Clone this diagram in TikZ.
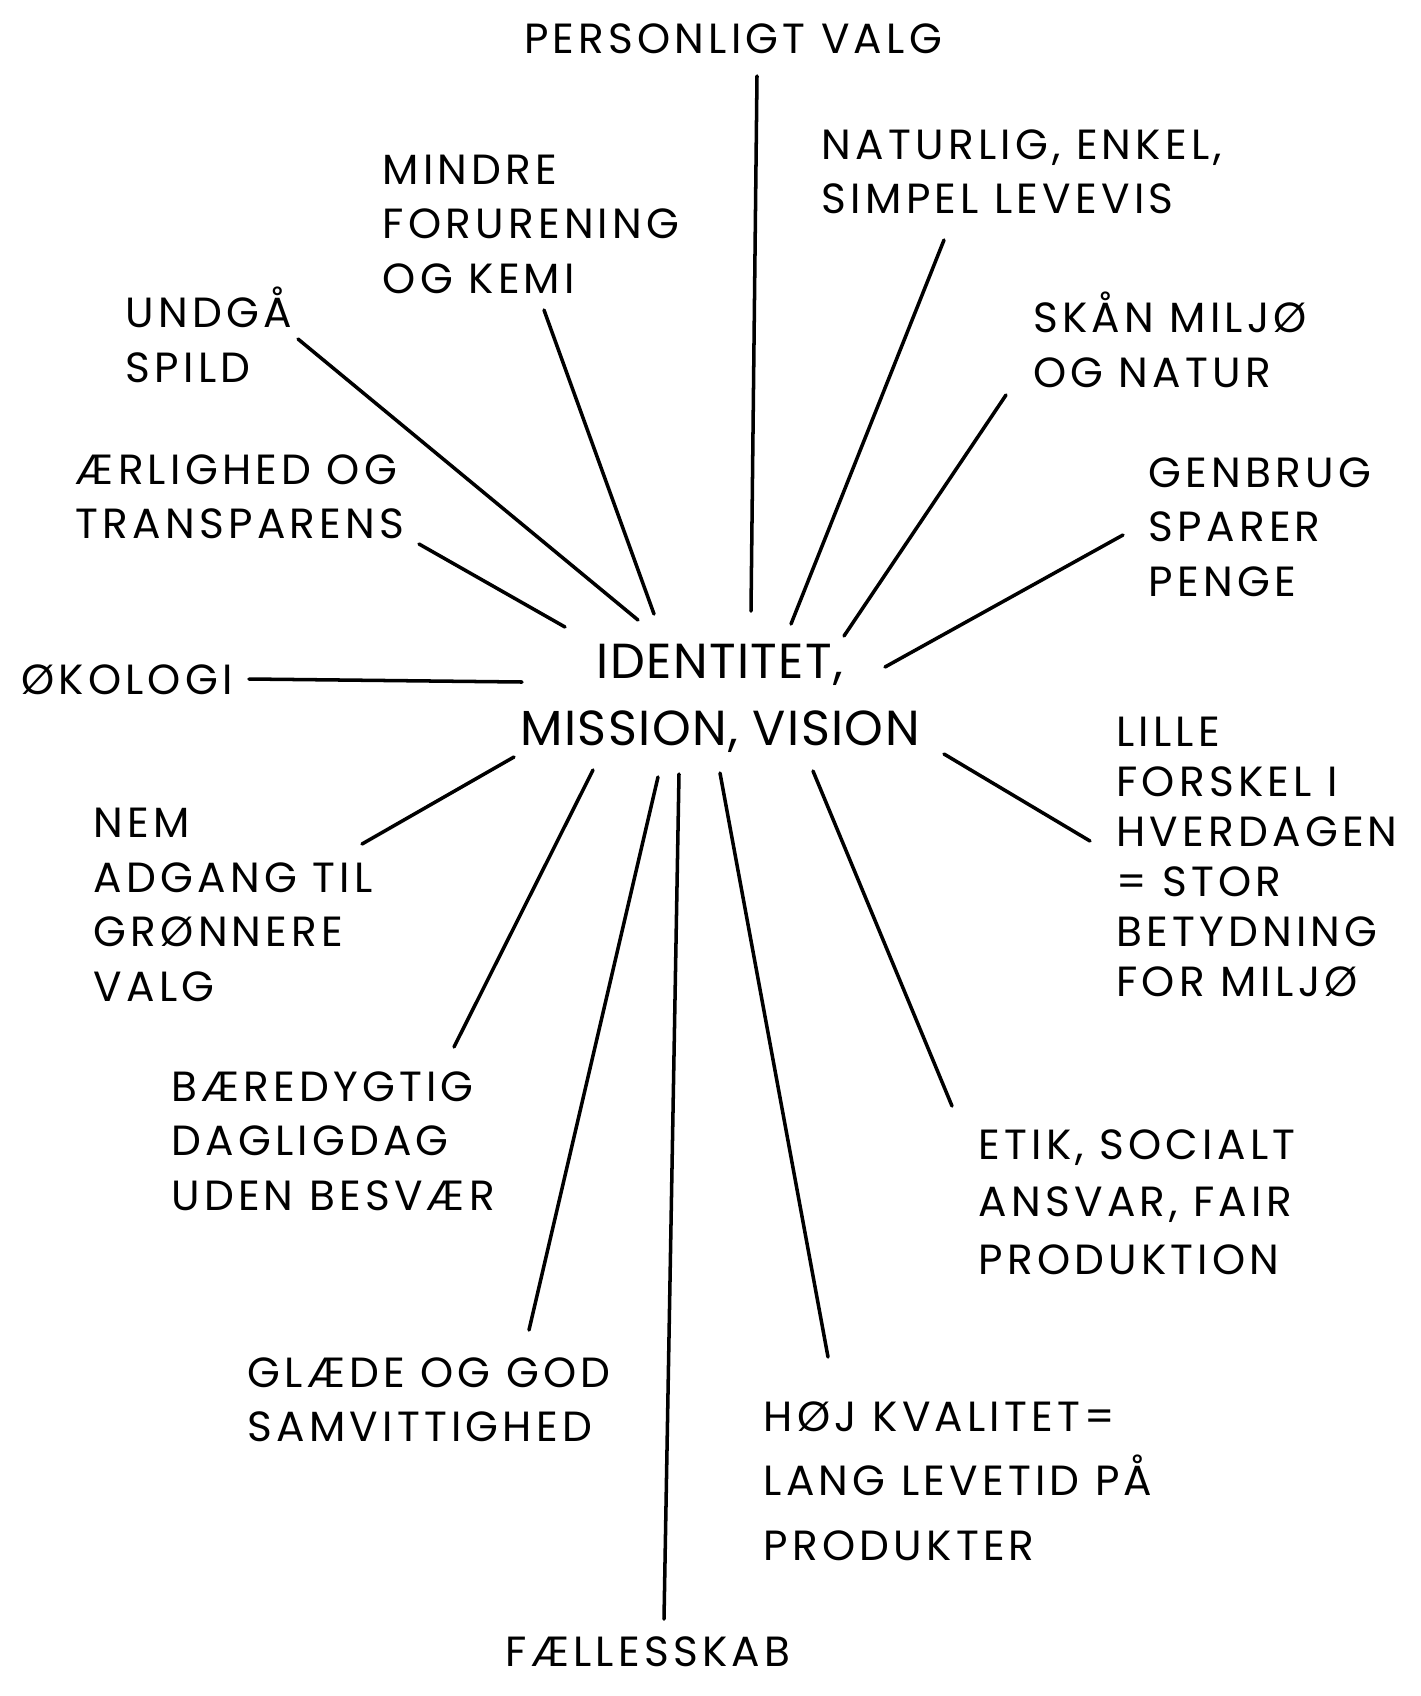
\documentclass[tikz,border=0pt]{standalone}
\usepackage{fontspec}
\setmainfont{Poppins}[LetterSpace=10]
\usetikzlibrary{positioning}
\tikzset{
  lbl/.style={align=left,inner sep=0pt,font=\fontsize{12}{15.5}\selectfont},
  hub/.style={align=center,inner sep=0pt,
              font=\fontsize{14}{19}\selectfont\addfontfeatures{LetterSpace=3}},
  spoke/.style={draw=black,line width=1pt,line cap=round},
}
\begin{document}
\begin{tikzpicture}[x=0.01cm,y=-0.01cm]
  \useasboundingbox (0,0) rectangle (1420,1696);
  % centre
  \node[hub] (hub) at (720,698) {IDENTITET,\\MISSION, VISION};
  % labels round it
  \node[lbl] (valg) at (733,39) {PERSONLIGT VALG};
  \node[lbl] (natur) at (1022,172) {NATURLIG, ENKEL,\\SIMPEL LEVEVIS};
  \node[lbl] (mindre) at (531,224) {MINDRE\\FORURENING\\OG KEMI};
  \node[lbl] (spild) at (209,335) {UNDGÅ\\SPILD};
  \node[lbl] (skaan) at (1170,340) {SKÅN MILJØ\\OG NATUR};
  \node[lbl] (aerlig) at (240,497) {ÆRLIGHED OG\\TRANSPARENS};
  \node[lbl] (genbrug) at (1260,527) {GENBRUG\\SPARER\\PENGE};
  \node[lbl] (oeko) at (127,680) {ØKOLOGI};
  \node[lbl,font=\fontsize{12}{14.2}\selectfont] (lille) at (1257,857)
    {LILLE\\FORSKEL I\\HVERDAGEN\\= STOR\\BETYDNING\\FOR MILJØ};
  \node[lbl] (nem) at (233,905) {NEM\\ADGANG TIL\\GRØNNERE\\VALG};
  \node[lbl] (baer) at (333,1141) {BÆREDYGTIG\\DAGLIGDAG\\UDEN BESVÆR};
  \node[lbl,font=\fontsize{12}{16.3}\selectfont] (etik) at (1137,1202)
    {ETIK, SOCIALT\\ANSVAR, FAIR\\PRODUKTION};
  \node[lbl] (glaede) at (429,1400) {GLÆDE OG GOD\\SAMVITTIGHED};
  \node[lbl,font=\fontsize{12}{18.4}\selectfont] (kval) at (958,1481)
    {HØJ KVALITET=\\LANG LEVETID PÅ\\PRODUKTER};
  \node[lbl] (faelles) at (648,1652) {FÆLLESSKAB};
  % spoke ends
  \path (751,611) coordinate (valg-in)    (757,76)   coordinate (valg-out)
        (791,624) coordinate (natur-in)   (944,240)  coordinate (natur-out)
        (654,614) coordinate (mindre-in)  (544,310)  coordinate (mindre-out)
        (638,620) coordinate (spild-in)   (298,339)  coordinate (spild-out)
        (844,636) coordinate (skaan-in)   (1006,395) coordinate (skaan-out)
        (565,627) coordinate (aerlig-in)  (419,544)  coordinate (aerlig-out)
        (885,667) coordinate (genbrug-in) (1123,535) coordinate (genbrug-out)
        (522,682) coordinate (oeko-in)    (249,679)  coordinate (oeko-out)
        (944,754) coordinate (lille-in)   (1090,841) coordinate (lille-out)
        (514,757) coordinate (nem-in)     (362,844)  coordinate (nem-out)
        (593,770) coordinate (baer-in)    (454,1047) coordinate (baer-out)
        (813,771) coordinate (etik-in)    (952,1106) coordinate (etik-out)
        (658,777) coordinate (glaede-in)  (529,1330) coordinate (glaede-out)
        (679,774) coordinate (faelles-in) (664,1619) coordinate (faelles-out)
        (720,773) coordinate (kval-in)    (828,1357) coordinate (kval-out);
  \foreach \s in {valg,natur,mindre,spild,skaan,aerlig,genbrug,oeko,
                  lille,nem,baer,etik,glaede,faelles,kval}
    \draw[spoke] (\s-in) -- (\s-out);
\end{tikzpicture}
\end{document}
